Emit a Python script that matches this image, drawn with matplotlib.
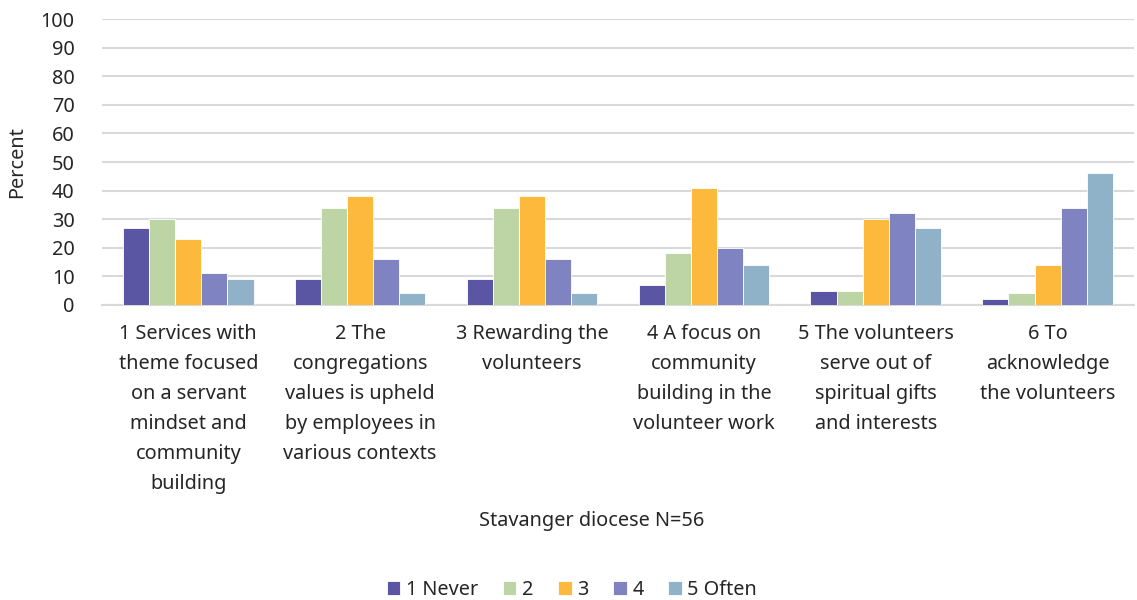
import numpy as np
import matplotlib.pyplot as plt

plt.rcParams['font.family'] = ['Noto Sans', 'DejaVu Sans']

# survey items (wrapped as shown on the axis)
items = [
    "1 Services with\ntheme focused\non a servant\nmindset and\ncommunity\nbuilding",
    "2 The\ncongregations\nvalues is upheld\nby employees in\nvarious contexts",
    "3 Rewarding the\nvolunteers",
    "4 A focus on\ncommunity\nbuilding in the\nvolunteer work",
    "5 The volunteers\nserve out of\nspiritual gifts\nand interests",
    "6 To\nacknowledge\nthe volunteers",
]
series = ["1 Never", "2", "3", "4", "5 Often"]
never = [27, 9, 9, 7, 5, 2]
two = [30, 34, 34, 18, 5, 4]
three = [23, 38, 38, 41, 30, 14]
four = [11, 16, 16, 20, 32, 34]
often = [9, 4, 4, 14, 27, 46]
colors = ["#5B56A3", "#BDD5A5", "#FCB93C", "#7F83C2", "#90B2C9"]

txt = "#262626"
fs = 14.3
fig = plt.figure(figsize=(11.37, 6.0), dpi=100)
ax = fig.add_axes([0.090, 0.492, 0.907, 0.476])

x = np.arange(len(items))
w = 0.152
for i, (vals, name, c) in enumerate(zip([never, two, three, four, often], series, colors)):
    ax.bar(x + (i - 2) * w, vals, width=w, color=c, label=name,
           edgecolor="white", linewidth=0.6, zorder=3)

ax.set_xlim(-0.5, len(items) - 0.5)
ax.set_ylim(0, 100)
ax.set_yticks(range(0, 101, 10))
ax.set_xticks(x)
ax.set_xticklabels(items, fontsize=fs, color=txt, linespacing=1.66)
ax.tick_params(axis="both", length=0, labelsize=fs, colors=txt)
ax.tick_params(axis="x", pad=14)
ax.tick_params(axis="y", pad=20)
ax.grid(axis="y", color="#D9D9D9", linewidth=1.5, zorder=0)
for s in ["top", "right", "left"]:
    ax.spines[s].set_visible(False)
ax.spines["bottom"].set_color("#D9D9D9")
ax.spines["bottom"].set_linewidth(1.5)

ax.set_ylabel("Percent", fontsize=fs, color=txt, labelpad=10)
fig.text(0.52, 0.132, "Stavanger diocese N=56", ha="center", va="center",
         fontsize=fs, color=txt)

fig.legend(loc="center", bbox_to_anchor=(0.503, 0.017), ncol=5, frameon=False,
           fontsize=fs, handlelength=0.7, handleheight=0.7,
           handletextpad=0.3, columnspacing=1.2, labelcolor=txt)

fig.savefig("out.png", dpi=100)
